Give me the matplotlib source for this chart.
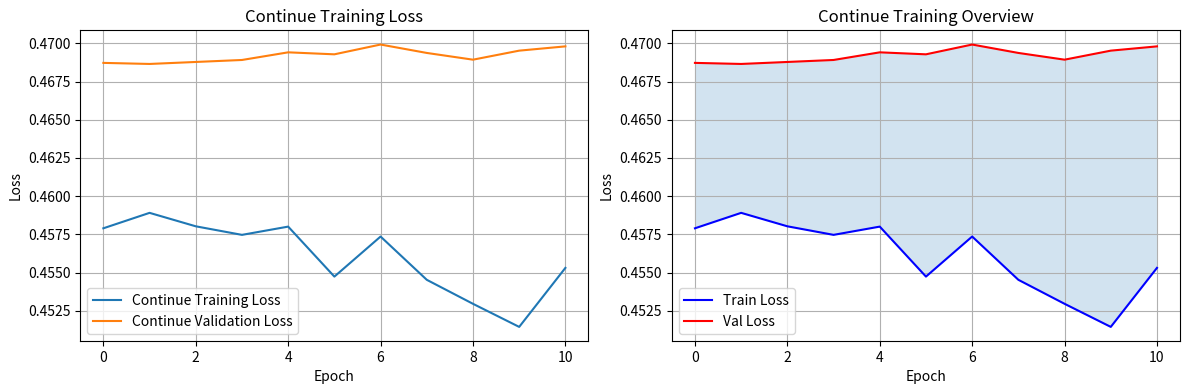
import matplotlib
matplotlib.use("Agg")
import matplotlib.pyplot as plt
import numpy as np

plt.rcParams['font.family'] = ['Noto Sans CJK SC', 'DejaVu Sans']

# 数据
epochs = list(range(11))
train_loss = [0.45790, 0.45891, 0.45803, 0.45747, 0.45801, 0.45474,
              0.45736, 0.45453, 0.45296, 0.45145, 0.45531]
val_loss = [0.46872, 0.46865, 0.46878, 0.46891, 0.46941, 0.46928,
            0.46992, 0.46937, 0.46893, 0.46952, 0.46980]

fig, (ax1, ax2) = plt.subplots(1, 2, figsize=(11.89, 3.9), dpi=100)

# 左图
ax1.plot(epochs, train_loss, label='Continue Training Loss')
ax1.plot(epochs, val_loss, label='Continue Validation Loss')
ax1.set_title('Continue Training Loss')
ax1.set_xlabel('Epoch')
ax1.set_ylabel('Loss')
ax1.legend(loc='lower left')
ax1.grid(True)

# 右图
ax2.plot(epochs, train_loss, color='blue', label='Train Loss')
ax2.plot(epochs, val_loss, color='red', label='Val Loss')
ax2.fill_between(epochs, train_loss, val_loss, alpha=0.2)
ax2.set_title('Continue Training Overview')
ax2.set_xlabel('Epoch')
ax2.set_ylabel('Loss')
ax2.legend(loc='lower left')
ax2.grid(True)

plt.subplots_adjust(left=0.0675, right=0.9925, top=0.922, bottom=0.1256, wspace=0.164)
plt.savefig('out.png')
